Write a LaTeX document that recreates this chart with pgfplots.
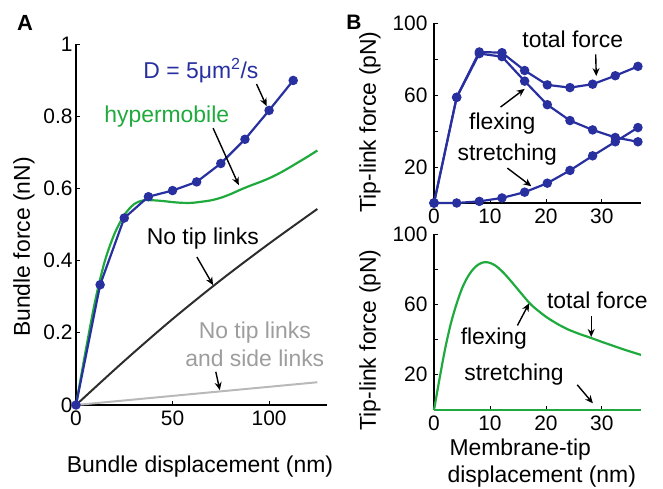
\documentclass[border=0pt]{standalone}
\usepackage{fontspec}
\setmainfont{Liberation Sans}
\usepackage{pgfplots}
\pgfplotsset{compat=1.18}
\usetikzlibrary{arrows.meta}
\definecolor{dblue}{RGB}{40,48,160}
\definecolor{mgreen}{RGB}{30,170,60}
\definecolor{lgrey}{RGB}{185,185,185}
\definecolor{dgrey}{RGB}{45,45,45}
\newcommand{\lf}{\fontsize{23}{28}\selectfont}
\pgfplotsset{mstyle/.style={scale only axis, axis lines*=left,
  axis line style={line width=2pt}, tick align=inside, major tick length=4pt,
  tick style={black, line width=0.8pt},
  /pgf/number format/assume math mode=true,
  ticklabel style={font=\fontsize{21}{24}\selectfont},
  xticklabel style={yshift=-2bp},
  clip=false}}
\tikzset{arr/.style={-{Stealth[length=8pt,width=7pt]}, line width=1.4pt, black}}
\begin{document}
\begin{tikzpicture}[x=1bp,y=1bp]
\useasboundingbox (0,0) rectangle (663,489);
% Panel A
\begin{axis}[mstyle, at={(76bp,84bp)}, anchor=south west, width=251bp, height=361bp,
  xmin=0, xmax=130, ymin=0, ymax=1, xtick={0,50,100},
  ytick={0,0.2,0.4,0.6,0.8,1}, yticklabels={0,0.2,0.4,0.6,0.8,1}]
\addplot[lgrey, line width=2pt] coordinates {(0,0) (125,0.063)};
\addplot[dgrey, line width=2pt, smooth] coordinates {(0,0) (25,0.122) (50,0.238) (75,0.346) (100,0.447) (125,0.543)};
\addplot[mgreen, line width=2.2pt, smooth] coordinates {(0,0) (5,0.15) (10,0.29) (15,0.40) (20,0.475) (25,0.526) (30,0.556) (35,0.567) (40,0.567) (45,0.565) (50,0.562) (55,0.56) (60,0.56) (65,0.563) (70,0.567) (75,0.574) (80,0.584) (85,0.596) (90,0.607) (95,0.617) (100,0.628) (105,0.641) (110,0.656) (115,0.672) (120,0.688) (125,0.705)};
\addplot[dblue, line width=2.2pt, mark=*, mark size=3.6pt, mark options={fill=dblue}] coordinates {(0,0) (12.5,0.333) (25,0.518) (37.5,0.577) (50,0.594) (62.5,0.618) (75,0.669) (87.5,0.736) (100,0.816) (112.5,0.899)};
\node[dblue, font=\lf] at (axis cs:64.7,0.925) {D = 5μm\textsuperscript{2}/s};
\draw[arr] (axis cs:93.5,0.889) -- (axis cs:98.7,0.828);
\node[mgreen, font=\lf] at (axis cs:47,0.798) {hypermobile};
\draw[arr] (axis cs:71,0.767) -- (axis cs:84.3,0.609);
\node[black, font=\lf] at (axis cs:65.7,0.462) {No tip links};
\draw[arr] (axis cs:62.6,0.41) -- (axis cs:71,0.332);
\node[lgrey!85!black, font=\lf, align=center] at (axis cs:92.6,0.169) {No tip links\\and side links};
\draw[arr] (axis cs:72.4,0.092) -- (axis cs:74.5,0.041);
\end{axis}
% Panel B top
\begin{axis}[mstyle, at={(434bp,286bp)}, anchor=south west, width=207bp, height=180bp,
  xmin=0, xmax=37, ymin=0, ymax=100, xtick={0,10,20,30},
  ytick={0,20,40,60,80,100}, yticklabels={,20,,60,,100},
  yticklabel style={xshift=-3bp}]
\addplot[dblue, line width=2.2pt, mark=*, mark size=3.6pt, mark options={fill=dblue}] coordinates {(0,0) (4.05,0) (8.1,0.9) (12.15,2.8) (16.2,6) (20.25,11) (24.3,18.1) (28.35,26.2) (32.4,34) (36.45,41.9)};
\addplot[dblue, line width=2.2pt, mark=*, mark size=3.6pt, mark options={fill=dblue}] coordinates {(0,0) (4.05,58.7) (8.1,83) (12.15,81.3) (16.2,67.7) (20.25,54.6) (24.3,45.8) (28.35,40.6) (32.4,36.4) (36.45,34)};
\addplot[dblue, line width=2.2pt, mark=*, mark size=3.6pt, mark options={fill=dblue}] coordinates {(0,0) (4.05,58.7) (8.1,83.9) (12.15,83.5) (16.2,73.6) (20.25,65.6) (24.3,64.1) (28.35,66) (32.4,70.7) (36.45,75.9)};
\node[font=\lf] at (axis cs:24.8,91) {total force};
\draw[arr] (axis cs:28.9,82.6) -- (axis cs:29.0,70.5);
\node[font=\lf] at (axis cs:12.2,43.9) {flexing};
\draw[arr] (axis cs:11.9,53.3) -- (axis cs:16.2,63.4);
\node[font=\lf] at (axis cs:13.1,27.1) {stretching};
\draw[arr] (axis cs:13.1,19.4) -- (axis cs:17.4,9.3);
\end{axis}
% Panel B bottom
\begin{axis}[mstyle, at={(434bp,79bp)}, anchor=south west, width=207bp, height=176bp,
  xmin=0, xmax=37, ymin=0, ymax=100, xtick={0,10,20,30},
  ytick={0,20,40,60,80,100}, yticklabels={,20,,60,,100},
  yticklabel style={xshift=-3bp}]
\addplot[mgreen, line width=2.2pt] coordinates {(0,0) (37,0)};
\addplot[mgreen, line width=2.2pt, smooth] coordinates {(0,0) (1,18) (2,35) (3,49) (4,60) (5,69) (6,75.5) (7,80) (8,82.8) (9,84) (10,83.6) (11,82) (12,79.3) (13,76) (14,72.3) (15,68.5) (16,64.7) (17,61) (18,58) (20,53) (22,49) (24,45.7) (26,43.2) (28,41) (30,38.7) (32,36.5) (34,34.3) (37,31.3)};
\node[font=\lf] at (axis cs:29.2,62.3) {total force};
\draw[arr] (axis cs:28.1,53.3) -- (axis cs:28.1,41.5);
\node[font=\lf] at (axis cs:10.7,40.4) {flexing};
\draw[arr] (axis cs:14.9,48) -- (axis cs:17,60.6);
\node[font=\lf] at (axis cs:14.3,20) {stretching};
\draw[arr] (axis cs:25.6,14.3) -- (axis cs:28.4,3.8);
\end{axis}
% labels
\node[font=\fontsize{22}{26}\selectfont\bfseries] at (25,466) {A};
\node[font=\fontsize{21}{26}\selectfont\bfseries] at (354,467) {B};
\node[font=\lf, rotate=90] at (24,242) {Bundle force (nN)};
\node[font=\lf, rotate=90] at (370,367) {Tip-link force (pN)};
\node[font=\lf, rotate=90] at (370,149) {Tip-link force (pN)};
\node[font=\lf] at (200,22) {Bundle displacement (nm)};
\node[font=\lf, anchor=west] at (446,39) {Membrane-tip};
\node[font=\lf, anchor=west] at (444,12) {displacement (nm)};
\end{tikzpicture}
\end{document}
